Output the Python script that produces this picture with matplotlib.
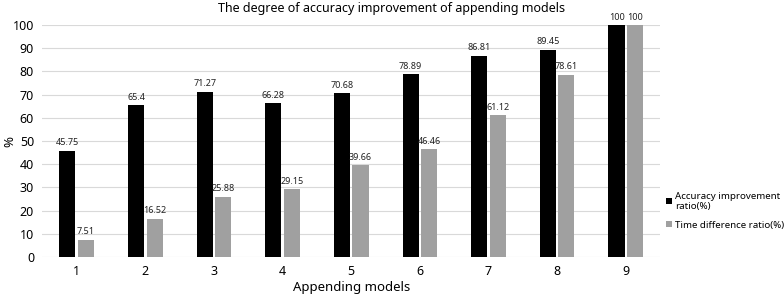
import numpy as np
import matplotlib
matplotlib.use("Agg")
import matplotlib.pyplot as plt

models = ["1", "2", "3", "4", "5", "6", "7", "8", "9"]
accuracy = [45.75, 65.4, 71.27, 66.28, 70.68, 78.89, 86.81, 89.45, 100]
time_diff = [7.51, 16.52, 25.88, 29.15, 39.66, 46.46, 61.12, 78.61, 100]
yticks = list(range(0, 101, 10))

plt.rcParams.update({"font.family": ["Noto Sans", "DejaVu Sans"], "font.size": 8})
fig = plt.figure(figsize=(7.84, 2.95), dpi=100)
ax = fig.add_axes([0.054, 0.129, 0.788, 0.786])

x = np.arange(len(models))
w = 0.235
b1 = ax.bar(x - 0.135, accuracy, w, color='black', label='Accuracy improvement\nratio(%)', zorder=3)
b2 = ax.bar(x + 0.135, time_diff, w, color='#a0a0a0', label='Time difference ratio(%)', zorder=3)
for bars, vals in ((b1, accuracy), (b2, time_diff)):
    for r, v in zip(bars, vals):
        ax.text(r.get_x() + r.get_width() / 2, v + 1.5, f'{v:g}', ha='center', va='bottom',
                fontsize=6.5, fontweight='bold', color='#222')

ax.set_xlim(-0.5, len(models) - 0.5)
ax.set_ylim(0, 100)
ax.set_yticks(yticks)
ax.set_xticks(x)
ax.set_xticklabels(models)
ax.tick_params(length=0, labelsize=9, pad=6)
ax.grid(axis='y', color='#d9d9d9', lw=0.8, zorder=0)
for s in ax.spines.values():
    s.set_visible(False)
ax.set_xlabel('Appending models', fontsize=9.5, labelpad=2)
ax.set_ylabel('%', fontsize=9.5)
ax.yaxis.set_label_coords(-0.042, 0.5)
fig.text(0.5, 0.97, 'The degree of accuracy improvement of appending models',
         ha='center', va='center', fontsize=9)
ax.legend(loc='center left', bbox_to_anchor=(1.0, 0.2), frameon=False, fontsize=7,
          handlelength=0.6, handleheight=0.6, handletextpad=0.3, labelspacing=1.0,
          borderaxespad=0.2)

fig.savefig('out.png', dpi=100)
